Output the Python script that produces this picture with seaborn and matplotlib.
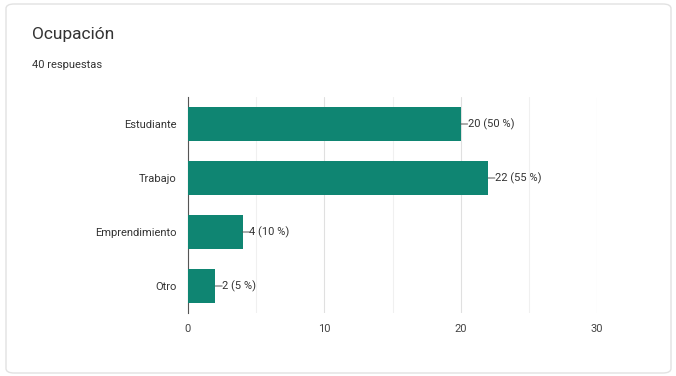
import matplotlib
matplotlib.use("Agg")
import matplotlib.pyplot as plt
from matplotlib.patches import FancyBboxPatch
import seaborn as sns
import pandas as pd

categories = ["Estudiante", "Trabajo", "Emprendimiento", "Otro"]
counts = [20, 22, 4, 2]
percents = [50, 55, 10, 5]
x_ticks = [0, 10, 20, 30]
total = 40

sns.set_theme(style="white")
plt.rcParams["font.family"] = ["Roboto", "DejaVu Sans"]

df = pd.DataFrame({"categoria": categories, "respuestas": counts})

fig = plt.figure(figsize=(6.76, 3.76), dpi=100)
fig.patch.set_facecolor("white")

# card outline, drawn beneath the axes
card = FancyBboxPatch((6 / 676, 3 / 376), 665 / 676, 369 / 376,
                      boxstyle="round,pad=0,rounding_size=0.012",
                      transform=fig.transFigure, facecolor="white",
                      edgecolor="#e2e2e2", linewidth=1.0, zorder=-5)
fig.patches.append(card)

fig.text(32 / 676, 1 - 35 / 376, "Ocupación", fontsize=12.5, color="#333333",
         va="center", ha="left")
fig.text(32 / 676, 1 - 65 / 376, f"{total} respuestas", fontsize=8, color="#333333",
         va="center", ha="left")

ax = fig.add_axes([188 / 676, 1 - 313 / 376, (597 - 188) / 676, (313 - 97) / 376])
ax.set_facecolor("none")
sns.barplot(data=df, x="respuestas", y="categoria", color="#0f8572",
            width=0.64, saturation=1, linewidth=0, ax=ax, zorder=3)

ax.set_xlim(0, 30)
ax.set_xticks(x_ticks)
ax.set_xticks([5, 15, 25], minor=True)
ax.grid(axis="x", which="major", color="#e0e0e0", linewidth=0.8, zorder=0)
ax.grid(axis="x", which="minor", color="#f0f0f0", linewidth=0.8, zorder=0)
ax.set_axisbelow(True)
for side in ["top", "right", "bottom"]:
    ax.spines[side].set_visible(False)
ax.spines["left"].set_color("#555555")
ax.spines["left"].set_linewidth(0.8)
ax.set_xlabel("")
ax.set_ylabel("")
ax.tick_params(axis="x", which="both", length=0, labelsize=8, labelcolor="#444444", pad=8)
ax.tick_params(axis="y", length=0, labelsize=8, labelcolor="#333333", pad=8)

for i, (c, p) in enumerate(zip(counts, percents)):
    # short leader line from the bar end to the label
    ax.annotate("", xy=(c, i), xytext=(5, 0), textcoords="offset points",
                arrowprops=dict(arrowstyle="-", color="#555555", lw=0.7,
                                shrinkA=0, shrinkB=0), zorder=4)
    ax.annotate(f"{c} ({p} %)", xy=(c, i), xytext=(5, 0), textcoords="offset points",
                va="center", ha="left", fontsize=8, color="#333333", zorder=4)

fig.savefig("out.png", dpi=100)
